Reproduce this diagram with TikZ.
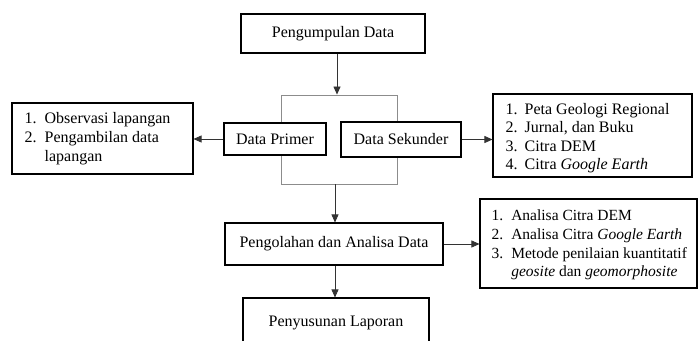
\documentclass[tikz,border=0pt]{standalone}
\usepackage{fontspec}
\setmainfont{Liberation Serif}
\usetikzlibrary{arrows.meta}
\begin{document}
\begin{tikzpicture}[x=1pt,y=-1pt,
  box/.style={draw=black,line width=1.1pt,fill=white,inner sep=0pt,font=\fontsize{16}{19}\selectfont},
  listtext/.style={anchor=west,inner sep=0pt,font=\fontsize{16}{19}\selectfont},
  frame/.style={draw=black!45,line width=0.9pt},
  arr/.style={draw=black!80,line width=0.7pt,-{Triangle[width=7pt,length=8pt]}}]
\useasboundingbox (0,0) rectangle (698,340);
\fill[white] (0,0) rectangle (698,340);
% gray frame
\node[frame,minimum width=116pt,minimum height=89pt,inner sep=0pt] (fr) at (339,139.5) {};
% main boxes
\node[box,minimum width=184pt,minimum height=39pt] (pd) at (333,33.5) {Pengumpulan Data};
\node[box,minimum width=102pt,minimum height=32pt] (dp) at (275,139) {Data Primer};
\node[box,minimum width=120pt,minimum height=35pt] (ds) at (401,139.5) {Data Sekunder};
\node[box,minimum width=218pt,minimum height=42pt] (pa) at (334,244) {Pengolahan dan Analisa Data};
\node[box,minimum width=186pt,minimum height=50pt] (pl) at (336,323) {Penyusunan Laporan};
% list boxes
\node[box,minimum width=181pt,minimum height=71pt] (lb) at (102.5,138.5) {};
\node[listtext] (lt) at ([xshift=13pt]lb.west) {\begin{tabular}{@{}r@{\hspace{8pt}}l@{}}
1.&Observasi lapangan\\
2.&Pengambilan data\\
&lapangan
\end{tabular}};
\node[box,minimum width=199pt,minimum height=83pt] (rb) at (592.5,135.5) {};
\node[listtext] (rt) at ([xshift=13pt,yshift=-3pt]rb.west) {\fontsize{16}{18.5}\selectfont\begin{tabular}{@{}r@{\hspace{7pt}}l@{}}
1.&Peta Geologi Regional\\
2.&Jurnal, dan Buku\\
3.&Citra DEM\\
4.&Citra \textit{Google Earth}
\end{tabular}};
\node[box,minimum width=217pt,minimum height=89pt] (sb) at (588.5,243.5) {};
\node[listtext] (st) at ([xshift=12pt,yshift=-1.5pt]sb.west) {\fontsize{15.5}{18.6}\selectfont\begin{tabular}{@{}r@{\hspace{8pt}}l@{}}
1.&Analisa Citra DEM\\
2.&Analisa Citra \textit{Google Earth}\\
3.&Metode penilaian kuantitatif\\
&\textit{geosite} dan \textit{geomorphosite}
\end{tabular}};
% connectors
\draw[arr] ([xshift=4pt]pd.south) -- ([xshift=4pt]pd.south |- fr.north);
\draw[arr] (dp.west) -- (dp.west -| lb.east);
\draw[arr] (ds.east) -- (ds.east -| rb.west);
\draw[arr] ([xshift=1pt]pa.north |- fr.south) -- ([xshift=1pt]pa.north);
\draw[arr] (pa.east) -- (pa.east -| sb.west);
\draw[arr] ([xshift=1pt]pa.south) -- ([xshift=1pt]pa.south |- pl.north);
\end{tikzpicture}
\end{document}
